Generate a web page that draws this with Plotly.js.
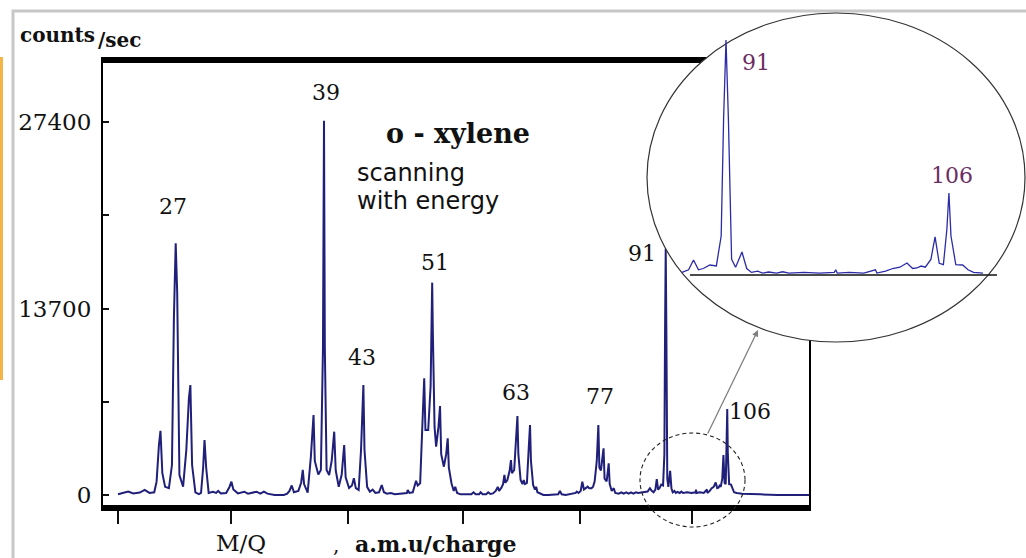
<!DOCTYPE html>
<html><head><meta charset="utf-8">
<script src="https://cdn.plot.ly/plotly-3.0.1.min.js"></script>
<style>html,body{margin:0;padding:0;background:#fff;overflow:hidden;} #chart{width:1026px;height:558px;}</style>
</head><body><div id="chart"></div>
<script>
// ---------- DATA ----------
const mz = [
  23.4, 23.8, 24.0, 24.3, 24.7, 25.0, 25.3, 25.6, 25.75, 25.9, 26.0, 26.12, 26.3, 26.55,
  26.75, 26.88, 27.0, 27.1, 27.25, 27.5, 27.72, 27.9, 28.0, 28.12, 28.35, 28.6,
  28.75, 28.9, 29.0, 29.12, 29.3, 29.6, 29.85, 30.0, 30.2, 30.6, 30.85, 31.0, 31.15, 31.5,
  32.0, 32.3, 32.7, 33.0, 33.3, 33.6, 33.9, 34.5, 35.3, 35.6, 35.8, 36.0, 36.2,
  36.6, 36.85, 37.0, 37.12, 37.45, 37.75, 37.9, 38.0, 38.12, 38.45, 38.7, 38.9, 39.0, 39.08, 39.25, 39.5,
  39.75, 40.0, 40.15, 40.45, 40.75, 41.0, 41.15, 41.5, 41.8, 42.0, 42.2, 42.5,
  42.75, 42.9, 43.0, 43.12, 43.4, 43.7, 44.0, 44.3, 44.7, 45.0, 45.25, 45.6, 46.0, 46.5, 47.0,
  47.6, 47.9, 48.0, 48.2, 48.6, 48.85, 49.0, 49.2, 49.5, 49.75, 49.9, 50.0, 50.15, 50.5,
  50.8, 50.92, 51.0, 51.08, 51.3, 51.5, 51.8, 52.0, 52.15, 52.5, 52.8, 53.0, 53.15, 53.5,
  53.8, 54.0, 54.25, 54.7, 55.5, 56.2, 56.5, 56.8, 57.3, 57.5, 57.8, 58.3, 58.6, 58.9, 59.3,
  59.7, 60.0, 60.2, 60.5, 60.8, 61.0, 61.15, 61.45, 61.8, 62.0, 62.15, 62.5, 62.8, 63.0, 63.15,
  63.5, 63.8, 64.0, 64.2, 64.5, 64.8, 65.0, 65.15, 65.5, 65.8, 66.0, 66.2, 66.6, 67.2,
  68.0, 69.0, 69.7, 70.0, 70.3, 71.0, 72.0, 72.8, 73.0, 73.3, 73.7, 74.0, 74.3, 74.7, 75.0, 75.3, 75.7, 76.0,
  76.3, 76.7, 77.0, 77.2, 77.5, 77.8, 78.0, 78.2, 78.6, 78.85, 79.0, 79.2, 79.6, 80.0, 80.3,
  81.0, 81.5, 82.0, 82.5, 83.0, 83.5, 84.0, 84.5, 85.0, 86.0, 87.0, 87.5, 87.9, 88.3, 88.7, 89.0, 89.3, 89.6, 90.0, 90.4,
  90.7, 90.85, 91.0, 91.15, 91.35, 91.6, 92.0, 92.3, 92.6, 93.0, 93.3, 93.7, 94.2, 94.6, 95.0,
  96.0, 97.0, 98.0, 98.1, 98.2, 99.0, 100.0, 100.8, 100.9, 101.5, 102.0, 102.5, 103.0, 103.4, 103.7, 104.0, 104.3, 104.7,
  105.0, 105.3, 105.6, 105.85, 106.0, 106.15, 106.5, 107.0, 107.4, 107.8, 108.5, 110.0, 115.0, 120.0, 130.0
];
const counts = [
  60, 150, 250, 120, 180, 370, 150, 200, 980, 3670, 4720, 1600, 600, 510,
  2200, 13000, 18500, 14900, 1470, 610, 3300, 7130, 8080, 2200, 200, 70,
  150, 2000, 4040, 2000, 150, 240, 150, 300, 120, 150, 590, 980, 400, 120,
  240, 100, 150, 240, 100, 240, 100, 0, 0, 100, 300, 700, 200,
  300, 900, 1840, 800, 170, 2800, 4500, 5880, 2500, 1500, 1840, 10800, 27500, 10800, 1840, 1470,
  2500, 4650, 1800, 610, 1500, 3670, 1300, 510, 700, 1230, 500, 370,
  3300, 6500, 8080, 3300, 600, 240, 400, 150, 200, 735, 200, 100, 150, 50, 80,
  100, 150, 370, 150, 200, 700, 1050, 700, 860, 4770, 7000, 8570, 4770, 4770,
  8000, 14450, 15600, 12000, 5000, 3550, 5000, 6540, 3000, 2080, 3000, 4160, 2000, 860,
  300, 600, 150, 50, 50, 50, 200, 50, 50, 200, 50, 60, 200, 80, 120,
  300, 600, 300, 500, 800, 1470, 900, 1100, 1800, 2570, 1600, 1840, 4000, 5800, 3000,
  1100, 800, 1100, 800, 880, 3500, 5140, 2500, 735, 400, 600, 200, 100, 0,
  0, 0, 50, 300, 50, 0, 100, 150, 250, 150, 300, 980, 400, 490, 610, 490, 500, 610,
  1000, 2500, 5140, 2000, 1800, 2800, 3430, 1200, 1000, 1800, 2330, 800, 300, 500, 150,
  100, 200, 100, 200, 100, 200, 100, 200, 150, 200, 250, 500, 300, 200, 400, 1160, 400, 500, 770, 700,
  3000, 12000, 18100, 12000, 1200, 600, 1770, 500, 200, 300, 150, 230, 150, 250, 150,
  200, 150, 200, 400, 150, 200, 150, 400, 150, 300, 500, 600, 920, 500, 540, 690, 600, 1200,
  2930, 900, 800, 3500, 6320, 3000, 800, 770, 400, 200, 150, 100, 50, 0, 0
];
const yTickVals = [0, 6850, 13700, 20550, 27400];
const yTickText = ['0', '', '13700', '', '27400'];
const xTickVals = [23.4, 31.0, 41.4, 55.1, 73.6, 97.1];
const peakLabels = ['27', '39', '43', '51', '63', '77', '91', '106'];
const insetLabels = ['91', '106'];
const insetMassWindow = [88.3, 109.5];

// ---------- LAYOUT GEOMETRY (pixels) ----------
const W = 1026, H = 558;
const PX = x => x / W, PY = y => 1 - y / H;
const L = 103, R = 809, T = 63, B = 505;            // main plot area
const xCal = {m: 27, px: 175.7, perLn: 403.3};      // log mass calibration
const yCal = {zero: 495, perCount: 373 / 27400};
const massAt = p => xCal.m * Math.exp((p - xCal.px) / xCal.perLn);
const xRange = [Math.log10(massAt(L)), Math.log10(massAt(R))];
const yRange = [-(B - yCal.zero) / yCal.perCount, (yCal.zero - T) / yCal.perCount];

// inset
const iL = 644, iR = 1026, iT = 10, iB = 345;
const iCal = {m: 91, px: 726, perLn: 1461};
const iMassAt = p => iCal.m * Math.exp((p - iCal.px) / iCal.perLn);
const iy = {zero: 275, perCount: 235 / 18100};
const iCountAt = p => (iy.zero - p) / iy.perCount;
const x2Range = [Math.log10(iMassAt(iL)), Math.log10(iMassAt(iR))];
const y2Range = [iCountAt(iB), iCountAt(iT)];

// inset subset of the same data
const inMz = [], inCounts = [];
mz.forEach((m, i) => { if (m >= insetMassWindow[0] && m <= insetMassWindow[1]) { inMz.push(m); inCounts.push(counts[i]); } });

const traces = [
  {x: mz, y: counts, type: 'scatter', mode: 'lines', xaxis: 'x', yaxis: 'y',
   line: {color: '#20207a', width: 2}, hoverinfo: 'skip'},
  {x: inMz, y: inCounts, type: 'scatter', mode: 'lines', xaxis: 'x2', yaxis: 'y2',
   line: {color: '#2b2ba8', width: 1.3}, hoverinfo: 'skip'}
];

const serif = 'DejaVu Serif', sans = 'DejaVu Sans';
function ann(text, x, y, size, opts) {
  opts = opts || {};
  return Object.assign({text: text, xref: 'paper', yref: 'paper', x: PX(x), y: PY(y),
    xanchor: 'center', yanchor: 'middle', showarrow: false,
    font: {family: serif, size: size, color: '#111'}}, opts);
}
const peakPos = [[173, 206], [326, 93], [362, 357], [435, 262], [516, 392], [600, 396], [642, 253], [750, 411]];
const insetPos = [[756, 62], [952, 175]];

const annotations = [];
peakLabels.forEach((t, i) => annotations.push(ann(t, peakPos[i][0], peakPos[i][1], 22)));
insetLabels.forEach((t, i) => annotations.push(ann(t, insetPos[i][0], insetPos[i][1], 22, {font: {family: serif, size: 22, color: '#6b2c63'}})));
annotations.push(ann('<b>counts</b>', 18, 35, 20, {xanchor: 'left'}));
annotations.push(ann('<b>/sec</b>', 96, 40, 20, {xanchor: 'left'}));
annotations.push(ann('<b>o - xylene</b>', 458, 134, 27));
annotations.push(ann('scanning', 355, 173, 24, {xanchor: 'left', font: {family: sans, size: 24, color: '#111'}}));
annotations.push(ann('with energy', 355, 201, 24, {xanchor: 'left', font: {family: sans, size: 24, color: '#111'}}));
annotations.push(ann('M/Q', 241, 543, 23));
annotations.push(ann(',', 336, 545, 20));
annotations.push(ann('<b>a.m.u/charge</b>', 353, 544, 22, {xanchor: 'left'}));
// arrow from small circle to big circle
annotations.push({text: '', xref: 'paper', yref: 'paper', x: PX(758), y: PY(330), ax: -51, ay: 105,
  showarrow: true, arrowhead: 2, arrowsize: 1, arrowwidth: 1.3, arrowcolor: '#808080', standoff: 0});

const shapes = [
  {type: 'rect', xref: 'paper', yref: 'paper', x0: PX(13), x1: 1.02, y0: -0.02, y1: PY(11), layer: 'below',
   line: {color: '#c8c8c8', width: 3}},
  {type: 'rect', xref: 'paper', yref: 'paper', x0: 0, x1: PX(3), y0: PY(380), y1: PY(57), layer: 'below',
   fillcolor: '#f3b54a', line: {width: 0}},
  // big magnifier ellipse (drawn in inset subplot layer, above main plot)
  {type: 'circle', xref: 'x2', yref: 'y2', layer: 'below',
   x0: iMassAt(647), x1: iMassAt(1025), y0: iCountAt(342), y1: iCountAt(13),
   fillcolor: '#ffffff', line: {color: '#333333', width: 1.2}},
  {type: 'line', xref: 'x2', yref: 'y2', layer: 'below',
   x0: iMassAt(690), x1: iMassAt(997), y0: 0, y1: 0,
   line: {color: '#111111', width: 1.5}},
  // small dashed ellipse in main plot
  {type: 'circle', xref: 'paper', yref: 'paper', layer: 'above',
   x0: PX(640), x1: PX(745), y0: PY(527), y1: PY(433),
   line: {color: '#222222', width: 1.1, dash: '4px,3px'}}
];

const layout = {
  width: W, height: H, margin: {l: 0, r: 0, t: 0, b: 0},
  paper_bgcolor: '#ffffff', plot_bgcolor: 'rgba(0,0,0,0)', showlegend: false,
  xaxis: {type: 'log', range: xRange, domain: [PX(L), PX(R)], anchor: 'y',
    showline: true, linewidth: 6, linecolor: '#000', mirror: true,
    ticks: 'outside', ticklen: 13, tickwidth: 2, tickcolor: '#111',
    tickmode: 'array', tickvals: xTickVals, ticktext: xTickVals.map(() => ''),
    showgrid: false, zeroline: false, fixedrange: true},
  yaxis: {range: yRange, domain: [PY(B), PY(T)], anchor: 'x',
    showline: true, linewidth: 2, linecolor: '#000', mirror: true,
    ticks: 'inside', ticklen: 6, tickwidth: 2, tickcolor: '#111',
    tickmode: 'array', tickvals: yTickVals, ticktext: yTickText, ticklabelstandoff: 5,
    tickfont: {family: serif, size: 23, color: '#111'},
    showgrid: false, zeroline: false, fixedrange: true},
  xaxis2: {type: 'log', range: x2Range, domain: [PX(iL), PX(iR)], anchor: 'y2',
    showline: false, ticks: '', showticklabels: false, showgrid: false, zeroline: false, fixedrange: true},
  yaxis2: {range: y2Range, domain: [PY(iB), PY(iT)], anchor: 'x2',
    showline: false, ticks: '', showticklabels: false, showgrid: false, zeroline: false, fixedrange: true},
  shapes: shapes,
  annotations: annotations
};

Plotly.newPlot('chart', traces, layout, {displayModeBar: false, staticPlot: true});
</script>
</body></html>
